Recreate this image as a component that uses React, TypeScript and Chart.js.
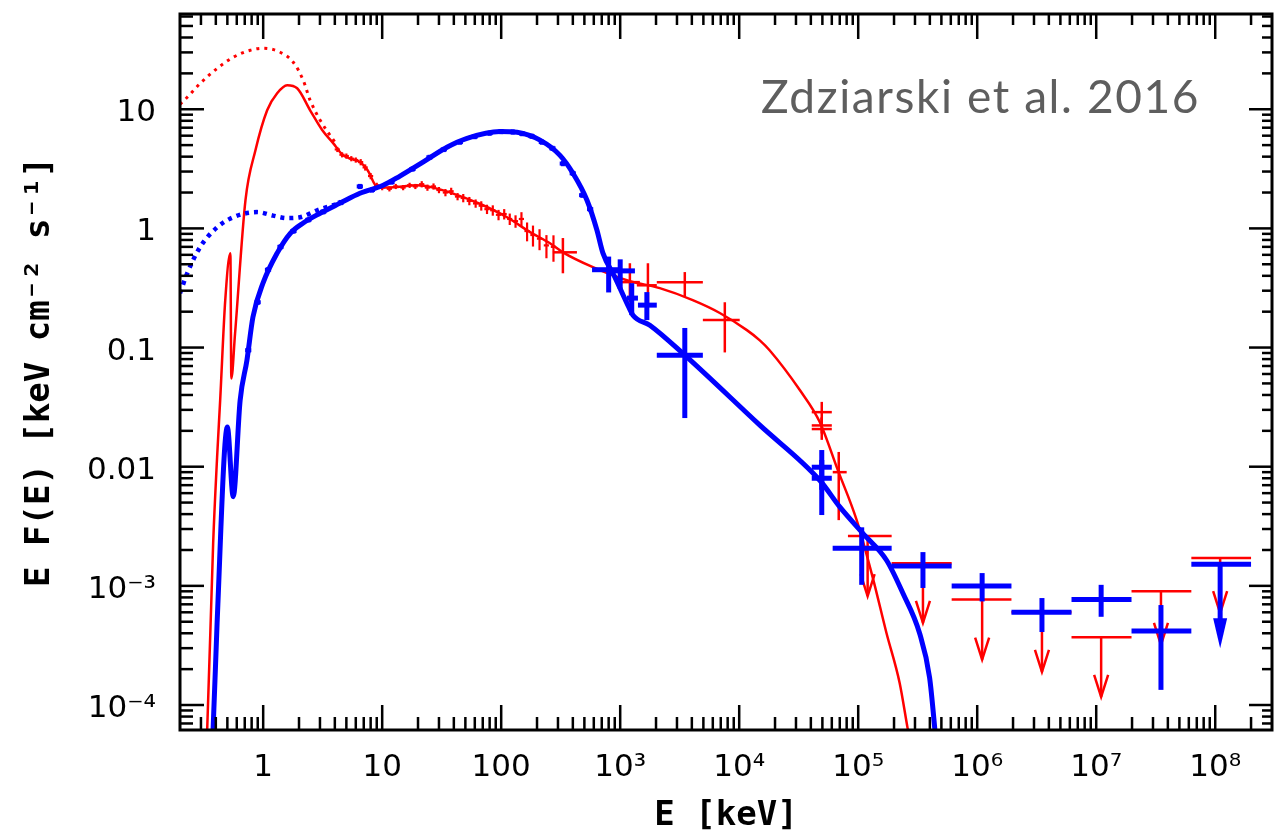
import React, { useEffect, useRef } from 'react';
import { Chart, registerables } from 'chart.js';

Chart.register(...registerables);

// ---------- axes ----------
const xRange = [0.2, 3e8];
const yRange = [6.17e-5, 63];
const xTickValues = [1, 10, 100, 1e3, 1e4, 1e5, 1e6, 1e7, 1e8];
const xTickLabels = ['1', '10', '100', '10³', '10⁴', '10⁵', '10⁶', '10⁷', '10⁸'];
const yTickValues = [1e-4, 1e-3, 0.01, 0.1, 1, 10];
const yTickLabels = ['10⁻⁴', '10⁻³', '0.01', '0.1', '1', '10'];
const xTitle = 'E [keV]';
const yTitle = 'E F(E) [keV cm⁻² s⁻¹]';
const annotation = 'Zdziarski et al. 2016';

// ---------- models: [E (keV), EF(E)] ----------
const redModel: [number, number][] = [
  [0.33, 4.0e-5], [0.339, 6.5e-5], [0.38, 2.3e-3], [0.41, 0.012], [0.435, 0.036], [0.48, 0.25],
  [0.53, 0.62], [0.54, 0.055], [0.58, 0.13], [0.71, 1.73], [0.86, 4.5], [1.08, 9.8],
  [1.31, 13.6], [1.59, 15.9], [1.93, 15], [2.48, 9.8], [3.13, 6.7], [3.87, 5.2], [4.7, 4.1],
  [6.5, 3.6], [7.5, 3.1], [9.2, 2.2], [11, 2.2], [19.6, 2.3], [26.8, 2.2], [39, 1.97],
  [66, 1.61], [112, 1.24], [175, 0.93], [257, 0.75], [330, 0.63], [590, 0.473],
  [1138, 0.367], [2150, 0.315], [4070, 0.25], [6870, 0.195], [11600, 0.14], [14900, 0.115],
  [18000, 0.095], [32300, 0.044], [47500, 0.0237], [67300, 9.4e-3], [97100, 3.56e-3],
  [1.32e5, 1.19e-3], [1.73e5, 4.0e-4], [2.23e5, 1.53e-4], [2.6e5, 6.4e-5], [2.81e5, 4.2e-5],
];
const redUnabsorbed: [number, number][] = [
  [0.2, 11], [0.23, 12.6], [0.296, 16.5], [0.41, 22], [0.56, 27.3], [0.78, 31.3], [1.0, 32.5],
  [1.39, 30.1], [1.79, 24.8], [2.17, 17.5], [2.48, 11.9], [3.01, 8.1], [4.0, 5.3],
];
const blueModel: [number, number][] = [
  [0.37, 4.5e-5], [0.38, 6.5e-5], [0.41, 4.9e-4], [0.5, 0.0215], [0.56, 5.6e-3], [0.64, 0.036],
  [0.73, 0.078], [0.82, 0.18], [1.0, 0.35], [1.31, 0.62], [1.69, 0.91], [2.17, 1.11],
  [3.01, 1.34], [4.43, 1.63], [6.5, 1.97], [10.2, 2.3], [14.1, 2.75], [22, 3.6],
  [35, 4.8], [51.6, 5.7], [97.7, 6.5], [136, 6.4], [212, 5.5], [312, 4.1], [401, 2.9],
  [525, 1.73], [637, 0.97], [716, 0.62], [902, 0.39], [1138, 0.236], [1280, 0.187],
  [1775, 0.154], [3490, 0.0863], [14900, 0.0223], [47500, 7.7e-3], [7e4, 4.6e-3],
  [1.09e5, 2.77e-3], [1.73e5, 1.64e-3], [2.37e5, 8.7e-4], [3.28e5, 4.0e-4], [3.98e5, 1.7e-4],
  [4.39e5, 6.5e-5], [4.56e5, 4.2e-5],
];
const blueUnabsorbed: [number, number][] = [
  [0.2, 0.286], [0.23, 0.42], [0.296, 0.7], [0.41, 1.02], [0.56, 1.24], [0.89, 1.37],
  [1.21, 1.28], [1.59, 1.22], [2.04, 1.24], [2.84, 1.42], [4.4, 1.63],
];

// ---------- data: [E, F, Elo, Ehi, Flo, Fhi] ----------
const blueCrosses: number[][] = [
  [800, 0.45, 580, 1000, 0.29, 0.58],
  [1000, 0.44, 850, 1330, 0.31, 0.55],
  [1250, 0.26, 1140, 1410, 0.187, 0.347],
  [1675, 0.227, 1410, 2030, 0.17, 0.292],
  [3490, 0.0863, 2030, 4950, 0.0256, 0.146],
  [49400, 9.9e-3, 40700, 60000, 6.4e-3, 0.0138],
  [49400, 8.0e-3, 40700, 60000, 3.93e-3, 0.0114],
  [1.07e5, 2.07e-3, 6.1e4, 1.91e5, 1.02e-3, 3.1e-3],
  [3.5e5, 1.47e-3, 1.91e5, 6.1e5, 9.6e-4, 1.92e-3],
  [1.1e6, 9.96e-4, 6.1e5, 1.94e6, 7.4e-4, 1.28e-3],
  [3.5e6, 6.0e-4, 1.94e6, 6.2e6, 4.1e-4, 7.9e-4],
  [1.1e7, 7.7e-4, 6.2e6, 1.98e7, 5.5e-4, 1.02e-3],
  [3.5e7, 4.18e-4, 1.98e7, 6.3e7, 1.34e-4, 6.9e-4],
];
const redCrosses: number[][] = [
  [330, 0.63, 272, 433, 0.42, 0.83],
  [1206, 0.354, 995, 1463, 0.24, 0.51],
  [1710, 0.333, 1380, 2030, 0.236, 0.51],
  [3490, 0.354, 2030, 4950, 0.265, 0.43],
  [7570, 0.17, 4950, 10100, 0.091, 0.24],
  [49400, 0.0287, 40700, 60000, 0.0234, 0.035],
  [49400, 0.0222, 40700, 60000, 0.019, 0.026],
  [49400, 0.0207, 40700, 60000, 0.0168, 0.0257],
  [68600, 9.0e-3, 61100, 80000, 3.56e-3, 0.0133],
];
// upper limits: [E, F, Elo, Ehi, arrow tip F]
const blueLimits: number[][] = [[1.1e8, 1.52e-3, 6.3e7, 2.0e8, 3.0e-4]];
const redLimits: number[][] = [
  [1.2e5, 2.62e-3, 8.2e4, 1.91e5, 8.2e-4],
  [3.5e5, 1.55e-3, 1.91e5, 6.1e5, 4.9e-4],
  [1.1e6, 7.7e-4, 6.1e5, 1.94e6, 2.4e-4],
  [3.5e6, 6.0e-4, 1.94e6, 6.2e6, 1.9e-4],
  [1.1e7, 3.7e-4, 6.2e6, 1.98e7, 1.17e-4],
  [3.5e7, 9.0e-4, 1.98e7, 6.3e7, 3.2e-4],
  [1.1e8, 1.71e-3, 6.3e7, 2.0e8, 5.9e-4],
];
// dense low-energy data: [E, F, relative error]
const redDense: number[][] = [
  [4.2, 4.6, 0.05], [4.6, 4.15, 0.05], [5.0, 4.05, 0.05], [5.5, 3.85, 0.05], [6.0, 3.75, 0.05],
  [6.6, 3.6, 0.06], [7.2, 3.25, 0.06], [8.0, 2.75, 0.06], [9.0, 2.3, 0.05], [10, 2.2, 0.05],
  [11.5, 2.15, 0.05], [13, 2.25, 0.05], [15, 2.2, 0.05], [17, 2.3, 0.05], [19, 2.25, 0.05],
  [21.5, 2.35, 0.06], [24, 2.2, 0.06], [27, 2.25, 0.06], [30, 2.1, 0.06], [34, 2.0, 0.07],
  [38, 2.05, 0.07], [43, 1.85, 0.07], [48, 1.8, 0.08], [54, 1.7, 0.08], [61, 1.62, 0.08],
  [68, 1.55, 0.09], [76, 1.45, 0.09], [85, 1.42, 0.1], [95, 1.3, 0.1], [106, 1.32, 0.1],
  [118, 1.2, 0.11], [132, 1.15, 0.12], [148, 1.2, 0.14], [165, 0.95, 0.18], [185, 0.88, 0.2],
  [210, 0.82, 0.2], [240, 0.72, 0.22], [275, 0.7, 0.25],
];
const blueDense: number[][] = [
  [0.75, 0.095], [0.9, 0.24], [1.1, 0.45], [1.4, 0.7], [1.8, 0.95], [2.4, 1.18], [3.2, 1.38],
  [4.5, 1.65], [6.5, 2.25], [8.2, 2.1], [12, 2.45], [18, 3.15], [25, 3.95], [33, 4.6], [45, 5.3],
  [60, 5.9], [80, 6.3], [100, 6.5], [125, 6.45], [150, 6.25], [180, 5.95], [220, 5.3],
  [270, 4.7], [330, 3.5], [400, 2.9], [480, 1.9], [560, 1.45],
];

const RED = '#ff0000';
const BLUE = '#0000ff';

const toXY = (arr: number[][]) => arr.map((p) => ({ x: p[0], y: p[1] }));

function drawBars(chart: any, which: 'red' | 'blue') {
  const { ctx, chartArea: a, scales } = chart;
  const X = (v: number) => scales.x.getPixelForValue(v);
  const Y = (v: number) => scales.y.getPixelForValue(v);
  const color = which === 'red' ? RED : BLUE;
  const lw = which === 'red' ? 2.5 : 5;
  ctx.save();
  ctx.beginPath();
  ctx.rect(a.left, a.top, a.right - a.left, a.bottom - a.top);
  ctx.clip();
  ctx.strokeStyle = color;
  ctx.fillStyle = color;
  ctx.lineCap = 'butt';
  const seg = (x1: number, y1: number, x2: number, y2: number) => {
    ctx.beginPath();
    ctx.moveTo(x1, y1);
    ctx.lineTo(x2, y2);
    ctx.stroke();
  };
  if (which === 'red') {
    ctx.lineWidth = 2.2;
    redDense.forEach(([e, f, r]) => {
      const cx = X(e), cy = Y(f);
      seg(cx, Y(f * (1 - r)), cx, Y(f * (1 + r)));
      seg(X(e * 0.95), cy, X(e * 1.05), cy);
    });
  } else {
    ctx.lineWidth = 4;
    blueDense.forEach(([e, f]) => {
      const cx = X(e), cy = Y(f);
      seg(cx, Y(f * 0.95), cx, Y(f * 1.05));
      seg(X(e * 0.94), cy, X(e * 1.06), cy);
    });
  }
  ctx.lineWidth = lw;
  const crosses = which === 'red' ? redCrosses : blueCrosses;
  crosses.forEach(([e, f, elo, ehi, flo, fhi]) => {
    seg(X(elo), Y(f), X(ehi), Y(f));
    seg(X(e), Y(flo), X(e), Y(fhi));
  });
  const limits = which === 'red' ? redLimits : blueLimits;
  limits.forEach(([e, f, elo, ehi, tip]) => {
    const cx = X(e), y0 = Y(f), y1 = Y(tip);
    seg(X(elo), y0, X(ehi), y0);
    if (which === 'red') {
      seg(cx, y0, cx, y1);
      ctx.beginPath();
      ctx.moveTo(cx - 7, y1 - 22);
      ctx.lineTo(cx, y1);
      ctx.lineTo(cx + 7, y1 - 22);
      ctx.stroke();
    } else {
      seg(cx, y0, cx, y1 - 26);
      ctx.beginPath();
      ctx.moveTo(cx - 7, y1 - 30);
      ctx.lineTo(cx + 7, y1 - 30);
      ctx.lineTo(cx, y1);
      ctx.closePath();
      ctx.fill();
    }
  });
  ctx.restore();
}

function drawFrame(chart: any) {
  const { ctx, chartArea: a, scales } = chart;
  ctx.save();
  ctx.strokeStyle = '#000';
  ctx.lineWidth = 2.5;
  const seg = (x1: number, y1: number, x2: number, y2: number) => {
    ctx.beginPath();
    ctx.moveTo(x1, y1);
    ctx.lineTo(x2, y2);
    ctx.stroke();
  };
  const ticks = (scale: any, horizontal: boolean) => {
    const lo = Math.floor(Math.log10(scale.min));
    const hi = Math.ceil(Math.log10(scale.max));
    for (let d = lo; d <= hi; d++) {
      for (let m = 1; m <= 9; m++) {
        const v = m * Math.pow(10, d);
        if (v <= scale.min * 1.001 || v >= scale.max / 1.001) continue;
        const p = scale.getPixelForValue(v);
        const major = m === 1;
        if (horizontal) {
          seg(p, a.bottom, p, a.bottom - (major ? 25 : 13));
          seg(p, a.top, p, a.top + (major ? 25 : 11));
        } else {
          seg(a.left, p, a.left + (major ? 24 : 13), p);
          seg(a.right, p, a.right - (major ? 23 : 10), p);
        }
      }
    }
  };
  ticks(scales.x, true);
  ticks(scales.y, false);
  ctx.lineWidth = 3;
  ctx.strokeRect(a.left, a.top, a.right - a.left, a.bottom - a.top);
  // annotation
  ctx.fillStyle = '#5e5e5e';
  ctx.font = '46px Lato';
  try {
    (ctx as any).letterSpacing = '1.6px';
  } catch (e) {
    /* ignore */
  }
  ctx.textAlign = 'right';
  ctx.textBaseline = 'alphabetic';
  ctx.fillText(annotation, 1200, 113);
  ctx.restore();
}

const spectrumPlugin = {
  id: 'spectrumDecor',
  afterDatasetDraw(chart: any, args: any) {
    if (args.index === 2) drawBars(chart, 'red');
    if (args.index === 0) drawBars(chart, 'blue');
  },
  afterDraw(chart: any) {
    drawFrame(chart);
  },
};

export default function App() {
  const ref = useRef<HTMLCanvasElement | null>(null);
  useEffect(() => {
    if (!ref.current) return;
    const chart = new Chart(ref.current, {
      type: 'scatter',
      data: {
        datasets: [
          {
            data: toXY(blueModel),
            showLine: true,
            borderColor: BLUE,
            borderWidth: 5,
            pointRadius: 0,
            cubicInterpolationMode: 'monotone',
          },
          {
            data: toXY(blueUnabsorbed),
            showLine: true,
            borderColor: BLUE,
            borderWidth: 4.5,
            borderDash: [4, 5],
            pointRadius: 0,
            cubicInterpolationMode: 'monotone',
          },
          {
            data: toXY(redModel),
            showLine: true,
            borderColor: RED,
            borderWidth: 2.5,
            pointRadius: 0,
            cubicInterpolationMode: 'monotone',
          },
          {
            data: toXY(redUnabsorbed),
            showLine: true,
            borderColor: RED,
            borderWidth: 3,
            borderDash: [3, 5],
            pointRadius: 0,
            cubicInterpolationMode: 'monotone',
          },
        ] as any,
      },
      options: {
        animation: false,
        responsive: false,
        devicePixelRatio: 1,
        layout: { padding: { left: 0, top: 14, right: 2, bottom: 0 } },
        plugins: { legend: { display: false }, tooltip: { enabled: false } },
        events: [],
        scales: {
          x: {
            type: 'logarithmic',
            min: xRange[0],
            max: xRange[1],
            grid: { display: false, drawTicks: false },
            border: { display: false },
            afterBuildTicks: (s: any) => {
              s.ticks = xTickValues.map((v) => ({ value: v }));
            },
            afterFit: (s: any) => {
              s.height = 104;
              s.paddingLeft = 0;
              s.paddingRight = 0;
            },
            ticks: {
              autoSkip: false,
              maxRotation: 0,
              padding: 19,
              color: '#000',
              font: { family: 'DejaVu Sans', size: 31 },
              callback: (_v: any, i: number) => xTickLabels[i],
            },
            title: {
              display: true,
              text: xTitle,
              color: '#000',
              font: { family: 'DejaVu Sans Mono', size: 34, weight: 'bold' },
              padding: { top: 0, bottom: -3 },
            },
          },
          y: {
            type: 'logarithmic',
            min: yRange[0],
            max: yRange[1],
            grid: { display: false, drawTicks: false },
            border: { display: false },
            afterBuildTicks: (s: any) => {
              s.ticks = yTickValues.map((v) => ({ value: v }));
            },
            afterFit: (s: any) => {
              s.width = 180;
              s.paddingTop = 0;
              s.paddingBottom = 0;
            },
            ticks: {
              autoSkip: false,
              padding: 24,
              labelOffset: 4,
              color: '#000',
              font: { family: 'DejaVu Sans', size: 31 },
              callback: (_v: any, i: number) => yTickLabels[i],
            },
            title: {
              display: true,
              text: yTitle,
              color: '#000',
              font: { family: 'DejaVu Sans Mono', size: 34, weight: 'bold' },
              padding: { top: 20, bottom: 0 },
            },
          },
        },
      } as any,
      plugins: [spectrumPlugin],
    });
    return () => chart.destroy();
  }, []);
  return (
    <div style={{ position: 'absolute', left: 0, top: 0, width: 1274, height: 834, background: '#fff' }}>
      <canvas ref={ref} width={1274} height={834} style={{ display: 'block' }} />
    </div>
  );
}
